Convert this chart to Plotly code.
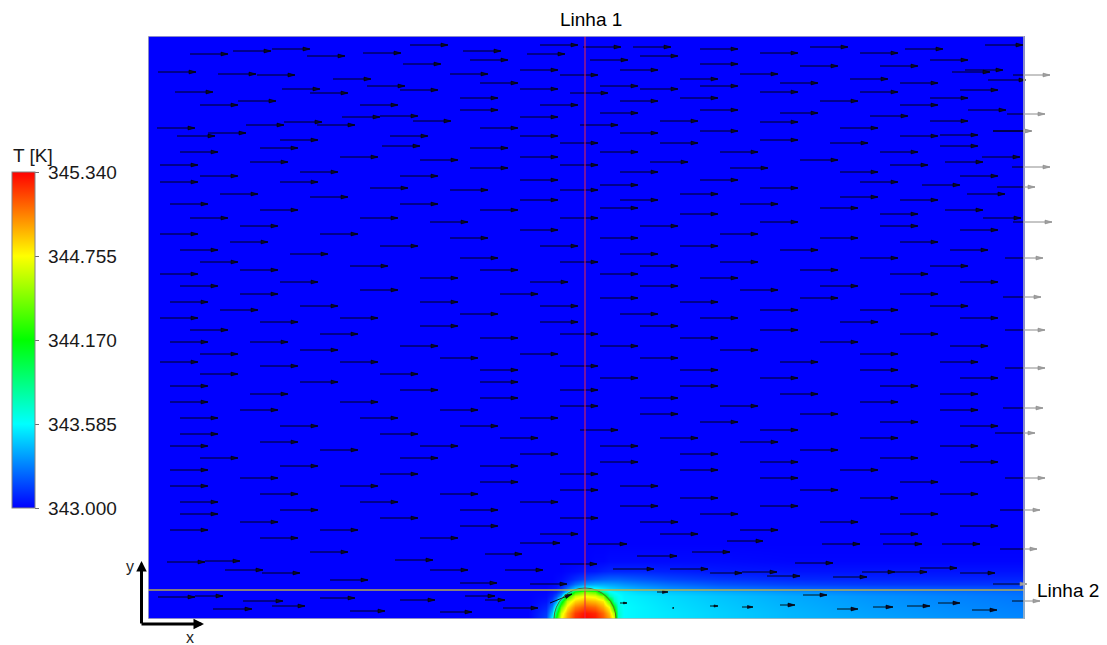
import numpy as np
import plotly.graph_objects as go

# ---------------- geometry / scale (mm, domain units) ----------------
DOMAIN_W = 876
DOMAIN_H = 583
CYL_X = 437
CYL_R = 31
LINE2_Y = 29
T_MIN, T_MAX = 343.000, 345.340
CBAR_TICKS = [343.000, 343.585, 344.170, 344.755, 345.340]

# ---------------- temperature field samples (K) ----------------
GRID_X = [0, 300, 380, 398, 404, 408, 413, 419, 427, 437, 447, 455, 461, 466, 470,
          476, 490, 520, 570, 640, 720, 800, 875]
GRID_Y = [0, 6, 12, 18, 23, 27, 31, 35, 40, 48, 58, 75, 583]
T_FIELD = [
    [343.0, 343.0, 343.0, 343.15, 343.6, 344.2, 344.75, 345.0, 345.25, 345.34, 345.3, 345.15, 345.0, 344.7, 343.7, 343.58, 343.56, 343.53, 343.48, 343.42, 343.38, 343.34, 343.31],
    [343.0, 343.0, 343.0, 343.12, 343.45, 344.0, 344.65, 344.95, 345.2, 345.3, 345.25, 345.1, 344.9, 344.55, 343.7, 343.58, 343.56, 343.53, 343.48, 343.42, 343.37, 343.33, 343.3],
    [343.0, 343.0, 343.0, 343.08, 343.3, 343.7, 344.4, 344.8, 345.05, 345.15, 345.1, 344.95, 344.75, 344.2, 343.65, 343.58, 343.56, 343.52, 343.47, 343.41, 343.36, 343.32, 343.29],
    [343.0, 343.0, 343.0, 343.04, 343.15, 343.35, 344.0, 344.6, 344.85, 344.95, 344.9, 344.8, 344.4, 343.75, 343.62, 343.57, 343.55, 343.51, 343.46, 343.4, 343.35, 343.31, 343.28],
    [343.0, 343.0, 343.0, 343.02, 343.08, 343.18, 343.4, 344.2, 344.65, 344.75, 344.7, 344.5, 343.8, 343.65, 343.6, 343.56, 343.54, 343.5, 343.45, 343.39, 343.34, 343.3, 343.27],
    [343.0, 343.0, 343.0, 343.01, 343.04, 343.08, 343.2, 343.5, 344.25, 344.5, 344.4, 343.85, 343.62, 343.58, 343.56, 343.54, 343.5, 343.46, 343.41, 343.35, 343.3, 343.27, 343.25],
    [343.0, 343.0, 343.0, 343.0, 343.02, 343.04, 343.1, 343.25, 343.45, 343.6, 343.58, 343.52, 343.48, 343.46, 343.44, 343.42, 343.38, 343.32, 343.26, 343.22, 343.2, 343.19, 343.18],
    [343.0, 343.0, 343.0, 343.0, 343.01, 343.02, 343.05, 343.12, 343.25, 343.35, 343.38, 343.38, 343.37, 343.36, 343.35, 343.33, 343.3, 343.25, 343.19, 343.15, 343.13, 343.12, 343.12],
    [343.0, 343.0, 343.0, 343.0, 343.0, 343.01, 343.02, 343.05, 343.1, 343.16, 343.2, 343.22, 343.23, 343.23, 343.23, 343.22, 343.2, 343.16, 343.12, 343.09, 343.08, 343.08, 343.08],
    [343.0, 343.0, 343.0, 343.0, 343.0, 343.0, 343.0, 343.01, 343.02, 343.04, 343.05, 343.07, 343.08, 343.08, 343.08, 343.08, 343.08, 343.07, 343.05, 343.04, 343.04, 343.04, 343.04],
    [343.0, 343.0, 343.0, 343.0, 343.0, 343.0, 343.0, 343.0, 343.0, 343.0, 343.01, 343.01, 343.02, 343.02, 343.02, 343.02, 343.02, 343.02, 343.02, 343.01, 343.01, 343.01, 343.01],
    [343.0] * 23,
    [343.0] * 23,
]

# ---------------- velocity vectors (tail positions and components) ----------------
# free-stream rows: height of row, tails along the row, arrow length
ROW_Y = [574, 572, 570, 568, 566, 565, 563, 559, 555, 553, 549, 547, 545, 544, 540, 539,
         536, 533, 530, 529, 527, 526, 521, 518, 514, 509, 506, 503, 502, 498, 497, 494,
         491, 488, 486, 484, 483, 479, 476, 473, 471, 467, 462, 459, 457, 454, 451, 447,
         443, 439, 437, 434, 431, 429, 425, 422, 419, 415, 411, 409, 405, 401, 397, 393,
         389, 385, 381, 377, 373, 369, 365, 361, 357, 353, 349, 345, 341, 337, 333, 329,
         325, 321, 317, 313, 309, 305, 301, 297, 293, 289, 285, 281, 277, 273, 269, 265,
         261, 257, 253, 249, 245, 241, 237, 233, 229, 225, 221, 217, 213, 209, 205, 201,
         197, 193, 189, 185, 181, 177, 173, 169, 165, 161, 157, 153, 149, 145, 141, 137,
         133, 129, 125, 121, 117, 113, 109, 105, 101, 97, 93, 89, 85, 81]
ROW_TAILS = [
    [262, 392, 837], [435, 485, 662], [124, 552, 757], [85, 315], [215, 612, 712], [42, 379],
    [159, 492], [322, 442, 782], [255, 552], [652, 732], [372, 472, 817], [10, 804],
    [70, 302, 592], [109, 412], [185, 532, 702], [840], [332, 632, 752], [219, 452, 552],
    [134, 372, 492], [252, 812], [27, 612, 712], [162, 422], [312, 532, 782], [90, 472, 672],
    [52, 212, 392, 752], [312, 552, 820], [452, 632], [232, 722], [194, 372], [265, 512, 782],
    [136, 612], [98, 169, 432], [9, 332, 692], [552, 845], [60, 472], [792], [29, 242, 372, 752],
    [132, 612], [412, 512, 682], [234, 792], [112, 322], [32, 452, 572, 732], [192, 372, 834],
    [272, 652], [102, 502, 797], [12, 412, 742], [322, 582], [152, 472, 692], [52, 252, 812],
    [372, 552], [12, 132, 712], [452, 774], [222, 612], [302, 412], [72, 532, 819], [162, 692],
    [372, 472, 752], [22, 252, 592], [452, 672], [112, 332, 797], [532, 732], [42, 212, 412, 835],
    [282, 612], [92, 492, 732], [372, 812], [12, 172, 572], [302, 452, 672], [82, 752],
    [232, 392, 532], [32, 632, 802], [142, 472], [312, 712], [52, 412, 572], [202, 492, 782],
    [92, 332, 652], [12, 452, 742], [272, 552], [132, 382, 812], [32, 492, 672], [212, 592],
    [92, 352, 752], [452, 652], [22, 272, 532], [152, 392, 782], [72, 612, 712], [312, 472],
    [12, 192, 552, 812], [112, 392, 692], [272, 492], [42, 612], [172, 412, 752], [332, 532],
    [22, 102, 672], [252, 452, 802], [152, 572], [52, 372, 712], [292, 492], [12, 192, 632, 792],
    [112, 412], [332, 532, 712], [52, 232], [452, 612, 812], [152, 332], [22, 532, 732],
    [252, 412], [102, 632, 792], [332, 492], [22, 192, 712], [412, 572], [92, 292, 792],
    [492, 652], [32, 212, 372], [552, 732], [132, 312, 812], [432, 612], [32, 232],
    [352, 512, 712], [112, 592], [22, 272, 452, 792], [172, 652], [372, 532], [52, 252, 732],
    [452, 612, 812], [132, 332], [22, 532, 692], [232, 412], [92, 612], [332, 752],
    [22, 192, 472], [412, 652], [112, 292, 792], [532, 712], [32, 212, 372], [472, 612],
    [132, 312], [32, 552, 752], [232, 412], [92, 492, 672], [312, 812], [22, 172, 592],
    [392, 512, 732], [112, 272],
]
ROW_LEN = [38] * len(ROW_Y)

# near-wall / wake vectors
WALL_X0 = [19, 57, 77, 114, 372, 440, 579, 674, 735, 794, 337, 489, 544, 357, 412, 465, 522,
           562, 594, 619, 647, 685, 714, 747, 772, 812, 845, 382, 162, 247, 182, 282, 312,
           10, 47, 95, 65, 124, 172, 202, 252, 292, 317, 355, 337, 402,
           472, 509, 524, 562, 594, 632, 655, 689, 725, 759, 790, 824]
WALL_Y0 = [57, 58, 49, 46, 76, 75, 78, 75, 75, 75, 65, 63, 67, 49, 55, 50, 50,
           46, 47, 43, 56, 42, 47, 47, 51, 46, 35, 35, 67, 59, 39, 49, 36,
           22, 23, 18, 10, 13, 21, 8, 19, 7, 23, 11, 19, 16,
           16, 27, 11, 13, 12, 14, 24, 10, 12, 13, 16, 9]
WALL_DX = [38, 35, 38, 38, 40, 39, 36, 38, 39, 38, 37, 40, 38, 38, 37, 41, 38,
           32, 35, 33, 38, 34, 33, 32, 37, 35, 34, 37, 38, 38, 38, 38, 37,
           37, 28, 40, 39, 33, 35, 35, 35, 32, 30, 35, 20, 22,
           7, 11, 2, 8, 11, 15, 24, 21, 20, 23, 22, 25]
WALL_DY = [0] * 45 + [9] + [0] * 12

# outlet vectors (cross the right boundary)
OUT_X0 = [865, 859, 845, 864, 849, 865, 857, 855, 857, 857, 855, 847, 857, 852, 852, 864]
OUT_Y0 = [544, 505, 488, 452, 432, 397, 361, 322, 289, 251, 211, 186, 141, 109, 70, 18]
OUT_DX = [37, 38, 39, 38, 38, 39, 38, 38, 40, 40, 40, 40, 40, 40, 37, 28]

# ---------------- styling constants ----------------
FONT = "Liberation Sans, Arial, sans-serif"
HEAD_LEN = 7
HEAD_HALF = 1.9
W, H = 1107, 645
ML, MT, MB = 148, 36, 26
PLOT_W = W - ML
PLOT_H = H - MT - MB

COLORSCALE = [[0.0, "rgb(0,0,255)"], [0.25, "rgb(0,255,255)"], [0.5, "rgb(0,255,0)"],
              [0.75, "rgb(255,255,0)"], [1.0, "rgb(255,0,0)"]]

# ---------------- build arrows ----------------
x0s, y0s, dxs, dys = [], [], [], []
for y, tails, ln in zip(ROW_Y, ROW_TAILS, ROW_LEN):
    for t in tails:
        x0s.append(t); y0s.append(y); dxs.append(ln); dys.append(0)
x0s += WALL_X0; y0s += WALL_Y0; dxs += WALL_DX; dys += WALL_DY
x0s += OUT_X0; y0s += OUT_Y0; dxs += OUT_DX; dys += [0] * len(OUT_X0)

shaft_in = ([], [])
shaft_out = ([], [])
head_in = ([], [])
head_out = ([], [])
for x0, y0, dx, dy in zip(x0s, y0s, dxs, dys):
    L = float(np.hypot(dx, dy))
    if L == 0:
        continue
    x1, y1 = x0 + dx, y0 + dy
    ux, uy = dx / L, dy / L
    h = min(HEAD_LEN, 0.5 * L)
    w = HEAD_HALF * h / HEAD_LEN
    bx, by = x1 - ux * h, y1 - uy * h
    if x1 <= DOMAIN_W:
        shaft_in[0].extend([x0, x1, None]); shaft_in[1].extend([y0, y1, None])
    else:
        if x0 < DOMAIN_W:
            ys = y0 + (DOMAIN_W - x0) * dy / dx if dx else y0
            shaft_in[0].extend([x0, DOMAIN_W, None]); shaft_in[1].extend([y0, ys, None])
            shaft_out[0].extend([DOMAIN_W, x1, None]); shaft_out[1].extend([ys, y1, None])
        else:
            shaft_out[0].extend([x0, x1, None]); shaft_out[1].extend([y0, y1, None])
    tgt = head_in if x1 <= DOMAIN_W + 2 else head_out
    tgt[0].extend([x1, bx - uy * w, bx + uy * w, x1, None])
    tgt[1].extend([y1, by + ux * w, by - ux * w, y1, None])

fig = go.Figure()

z = np.array(T_FIELD)
z = np.hstack([z, z[:, -1:]])
fig.add_trace(go.Heatmap(
    x=GRID_X + [DOMAIN_W], y=GRID_Y, z=z, zsmooth="best",
    zmin=T_MIN, zmax=T_MAX, colorscale=COLORSCALE, hoverinfo="skip",
    colorbar=dict(
        x=(12 - ML) / PLOT_W, xanchor="left", xpad=0,
        y=(619 - 340.4) / PLOT_H, yanchor="middle", ypad=0,
        len=335.5 / PLOT_H, lenmode="fraction", thickness=23, thicknessmode="pixels",
        outlinewidth=1, outlinecolor="rgb(130,130,130)",
        tickmode="array", tickvals=CBAR_TICKS,
        ticktext=["\u00a0" + f"{v:.3f}" for v in CBAR_TICKS],
        ticks="outside", ticklen=4, tickwidth=1, tickcolor="rgb(110,110,110)",
        tickfont=dict(family=FONT, size=19, color="rgb(25,25,25)"),
    ),
))

fig.add_trace(go.Scatter(x=shaft_in[0], y=shaft_in[1], mode="lines",
                         line=dict(color="rgb(0,0,0)", width=0.9), hoverinfo="skip", showlegend=False))
fig.add_trace(go.Scatter(x=head_in[0], y=head_in[1], mode="lines", fill="toself",
                         fillcolor="rgb(10,10,40)", line=dict(color="rgb(0,0,0)", width=0.6),
                         hoverinfo="skip", showlegend=False))
fig.add_trace(go.Scatter(x=shaft_out[0], y=shaft_out[1], mode="lines",
                         line=dict(color="rgb(140,140,140)", width=1), hoverinfo="skip", showlegend=False))
fig.add_trace(go.Scatter(x=head_out[0], y=head_out[1], mode="lines", fill="toself",
                         fillcolor="rgb(160,160,160)", line=dict(color="rgb(140,140,140)", width=0.6),
                         hoverinfo="skip", showlegend=False))

shapes = [
    dict(type="circle", xref="x", yref="y", x0=CYL_X - CYL_R, x1=CYL_X + CYL_R,
         y0=-CYL_R, y1=CYL_R, line=dict(color="rgba(90,80,30,0.85)", width=1), layer="above"),
    dict(type="line", xref="x", yref="y", x0=CYL_X, x1=CYL_X, y0=0, y1=DOMAIN_H,
         line=dict(color="rgb(235,40,70)", width=1), layer="above"),
    dict(type="line", xref="x", yref="y", x0=0, x1=DOMAIN_W, y0=LINE2_Y, y1=LINE2_Y,
         line=dict(color="rgba(190,180,70,0.7)", width=2), layer="above"),
    dict(type="rect", xref="x", yref="y", x0=0, x1=DOMAIN_W, y0=0, y1=DOMAIN_H,
         line=dict(color="rgb(185,185,185)", width=1.5), layer="above"),
]


def px(xp):
    return (xp - ML) / PLOT_W


def py(yp):
    return (H - MB - yp) / PLOT_H


annotations = [
    dict(text="Linha 1", xref="paper", yref="paper", x=px(591), y=py(19), xanchor="center",
         yanchor="middle", showarrow=False, font=dict(family=FONT, size=19, color="black")),
    dict(text="Linha 2", xref="paper", yref="paper", x=px(1035), y=py(590), xanchor="left",
         yanchor="middle", showarrow=False, font=dict(family=FONT, size=19, color="black")),
    dict(text="T [K]", xref="paper", yref="paper", x=px(11), y=py(155), xanchor="left",
         yanchor="middle", showarrow=False, font=dict(family=FONT, size=19, color="rgb(25,25,25)")),
    dict(text="y", xref="paper", yref="paper", x=px(130), y=py(566), xanchor="center",
         yanchor="middle", showarrow=False, font=dict(family=FONT, size=16, color="rgb(30,30,30)")),
    dict(text="x", xref="paper", yref="paper", x=px(190), y=py(637), xanchor="center",
         yanchor="middle", showarrow=False, font=dict(family=FONT, size=16, color="rgb(30,30,30)")),
    dict(text="", xref="paper", yref="paper", x=px(141.5), y=py(561), ax=0, ay=64,
         showarrow=True, arrowhead=2, arrowsize=0.7, arrowwidth=3, arrowcolor="black"),
    dict(text="", xref="paper", yref="paper", x=px(204), y=py(624), ax=-64, ay=0,
         showarrow=True, arrowhead=2, arrowsize=0.7, arrowwidth=3, arrowcolor="black"),
]

fig.update_layout(
    width=W, height=H,
    margin=dict(l=ML, r=0, t=MT, b=MB, autoexpand=False),
    paper_bgcolor="white", plot_bgcolor="white",
    xaxis=dict(range=[0, PLOT_W], visible=False, fixedrange=True),
    yaxis=dict(range=[0, DOMAIN_H], visible=False, fixedrange=True),
    shapes=shapes, annotations=annotations, showlegend=False,
)

fig.write_html("out.html", config={"displayModeBar": False},
               post_script="document.body.style.margin='0px';document.body.style.overflow='hidden';")
